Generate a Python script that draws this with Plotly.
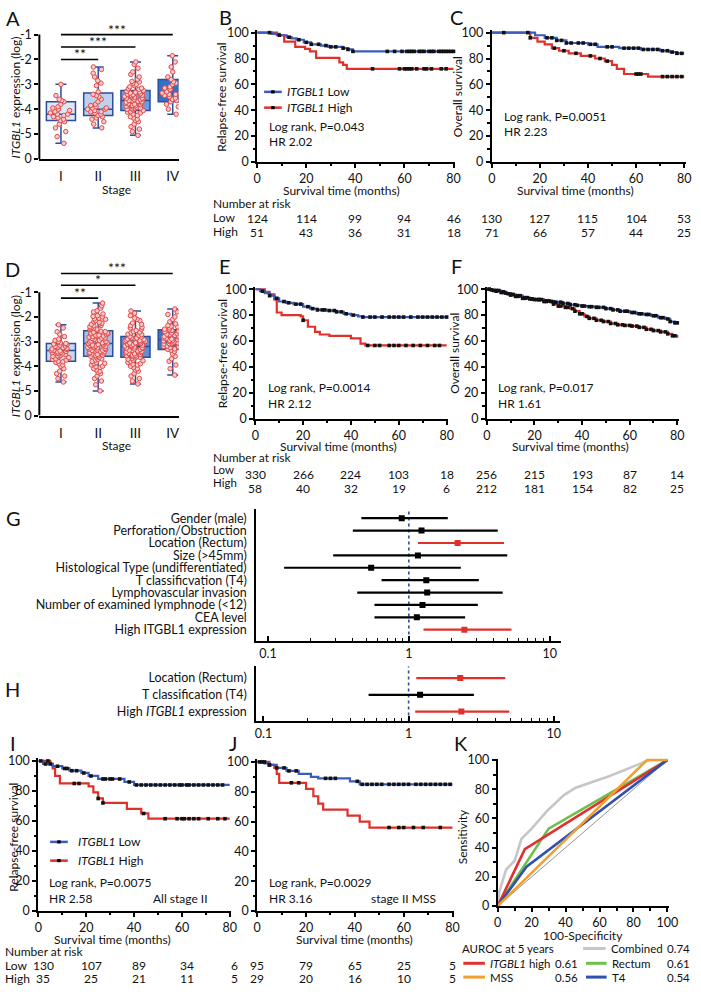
import plotly.graph_objects as go

# ======================= DATA =======================
stages = ["I", "II", "III", "IV"]
stage_pos = [1, 2, 3, 4]

# ---- Panel A : box statistics (log expression) ----
A_lower = [-5.37, -4.75, -5.05, -4.2]
A_q1 = [-4.45, -4.25, -4.05, -3.7]
A_median = [-4.2, -4.0, -3.65, -3.4]
A_q3 = [-3.7, -3.35, -3.25, -2.8]
A_upper = [-3.0, -2.3, -2.1, -1.85]
A_pts_I = [-3.0, -3.45, -3.6, -3.65, -3.7, -3.8, -3.9, -3.95, -4.0, -4.05, -4.1, -4.15, -4.2, -4.2,
           -4.25, -4.3, -4.35, -4.4, -4.45, -4.5, -4.6, -4.75, -4.9, -5.1, -5.37]
A_pts_II = [-2.3, -2.4, -2.55, -2.7, -2.85, -2.95, -3.05, -3.3, -3.4, -3.45, -3.5, -3.6, -3.7, -3.8,
            -3.85, -3.9, -3.95, -3.95, -4.0, -4.0, -4.05, -4.1, -4.1, -4.15, -4.2, -4.25, -4.3, -4.35,
            -4.4, -4.5, -4.6, -4.75]
A_pts_III = [-2.1, -2.2, -2.35, -2.5, -2.6, -2.7, -2.8, -2.88, -2.9, -2.95, -3.0, -3.05, -3.1, -3.15,
             -3.18, -3.2, -3.25, -3.28, -3.3, -3.32, -3.35, -3.38, -3.4, -3.42, -3.44, -3.45, -3.48,
             -3.5, -3.52, -3.55, -3.56, -3.58, -3.6, -3.62, -3.65, -3.66, -3.68, -3.7, -3.72, -3.75,
             -3.76, -3.78, -3.8, -3.82, -3.85, -3.86, -3.88, -3.9, -3.92, -3.95, -3.96, -3.98, -4.0,
             -4.02, -4.05, -4.1, -4.12, -4.15, -4.2, -4.25, -4.3, -4.35, -4.4, -4.45, -4.5, -4.6,
             -4.7, -4.8, -4.9, -5.05]
A_pts_IV = [-1.85, -2.1, -2.3, -2.5, -2.7, -2.8, -2.9, -2.95, -3.0, -3.1, -3.15, -3.2, -3.25, -3.3,
            -3.35, -3.35, -3.4, -3.4, -3.45, -3.5, -3.55, -3.6, -3.65, -3.7, -3.8, -3.9, -4.0, -4.2]
A_sig_from = [1, 1, 1]
A_sig_to = [2, 3, 4]
A_sig_y = [-2.0, -1.5, -1.0]
A_sig_lab = ["**", "***", "***"]

# ---- Panel D : box statistics ----
D_lower = [-4.64, -5.0, -4.72, -4.36]
D_q1 = [-3.8, -3.6, -3.64, -3.32]
D_median = [-3.36, -3.08, -3.2, -2.92]
D_q3 = [-3.08, -2.56, -2.8, -2.52]
D_upper = [-2.32, -1.44, -1.76, -1.68]
D_pts_I = [-2.32, -2.45, -2.6, -2.7, -2.8, -2.9, -2.95, -3.0, -3.05, -3.08, -3.1, -3.12, -3.15,
           -3.18, -3.2, -3.22, -3.25, -3.28, -3.3, -3.32, -3.35, -3.36, -3.38, -3.4, -3.42, -3.44,
           -3.45, -3.48, -3.5, -3.52, -3.55, -3.58, -3.6, -3.62, -3.65, -3.7, -3.72, -3.75, -3.8,
           -3.82, -3.85, -3.9, -3.95, -4.0, -4.1, -4.2, -4.3, -4.4, -4.5, -4.64]
D_pts_II = [-1.44, -1.55, -1.65, -1.75, -1.8, -1.88, -1.95, -1.98, -2.0, -2.05, -2.08, -2.1, -2.15,
            -2.2, -2.22, -2.25, -2.28, -2.3, -2.35, -2.36, -2.4, -2.42, -2.45, -2.48, -2.5, -2.52,
            -2.55, -2.58, -2.6, -2.62, -2.65, -2.66, -2.68, -2.7, -2.72, -2.74, -2.75, -2.78, -2.8,
            -2.82, -2.85, -2.86, -2.88, -2.9, -2.92, -2.95, -2.96, -2.98, -3.0, -3.02, -3.05, -3.06,
            -3.08, -3.1, -3.12, -3.14, -3.15, -3.16, -3.18, -3.2, -3.22, -3.24, -3.25, -3.26, -3.28,
            -3.3, -3.32, -3.34, -3.35, -3.36, -3.38, -3.4, -3.42, -3.45, -3.46, -3.48, -3.5, -3.52,
            -3.55, -3.56, -3.58, -3.6, -3.62, -3.65, -3.7, -3.72, -3.75, -3.8, -3.85, -3.88, -3.9,
            -3.95, -4.0, -4.02, -4.05, -4.1, -4.15, -4.2, -4.25, -4.3, -4.4, -4.5, -4.6, -4.75, -5.0]
D_pts_III = [-1.76, -1.85, -1.95, -2.05, -2.1, -2.15, -2.25, -2.3, -2.35, -2.42, -2.45, -2.5,
             -2.55, -2.6, -2.62, -2.65, -2.7, -2.72, -2.75, -2.8, -2.82, -2.85, -2.86, -2.88, -2.9,
             -2.92, -2.95, -2.96, -2.98, -3.0, -3.02, -3.05, -3.06, -3.08, -3.1, -3.12, -3.15,
             -3.16, -3.18, -3.2, -3.22, -3.25, -3.26, -3.28, -3.3, -3.32, -3.35, -3.36, -3.38, -3.4,
             -3.42, -3.45, -3.46, -3.48, -3.5, -3.52, -3.55, -3.56, -3.58, -3.6, -3.62, -3.64,
             -3.66, -3.68, -3.72, -3.76, -3.78, -3.8, -3.85, -3.9, -3.92, -3.95, -4.0, -4.05, -4.1,
             -4.15, -4.2, -4.3, -4.4, -4.5, -4.6, -4.72]
D_pts_IV = [-1.68, -1.8, -1.9, -2.0, -2.1, -2.2, -2.28, -2.35, -2.38, -2.4, -2.45, -2.5, -2.52,
            -2.55, -2.58, -2.6, -2.62, -2.65, -2.68, -2.7, -2.72, -2.75, -2.78, -2.8, -2.82, -2.85,
            -2.88, -2.9, -2.92, -2.95, -2.96, -2.98, -3.0, -3.02, -3.05, -3.06, -3.08, -3.1, -3.12,
            -3.15, -3.18, -3.2, -3.22, -3.25, -3.3, -3.32, -3.35, -3.4, -3.5, -3.6, -3.7, -3.8,
            -3.95, -4.1, -4.36]
D_sig_from = [1, 1, 1]
D_sig_to = [2, 3, 4]
D_sig_y = [-1.24, -0.72, -0.24]
D_sig_lab = ["**", "*", "***"]

# ---- Kaplan-Meier curves (months, % survival) ----
B_low_t = [0, 6, 9, 12, 14, 16, 19, 22, 26, 29, 35, 37, 39, 80]
B_low_s = [100, 99, 98, 96.5, 95.5, 94.5, 92.5, 91, 90, 89, 88, 87, 85.5, 85.5]
B_high_t = [0, 8, 11, 15.5, 19.5, 21.5, 24, 33.5, 35, 36.5, 80]
B_high_s = [100, 98, 93, 89, 87.5, 85.5, 80.5, 77, 75, 72, 72]
B_cens_low = [5, 9, 13, 17, 20, 22, 25, 28, 30, 32, 35, 37, 39, 53, 56, 59, 61, 62, 63, 64, 66, 67,
              68, 70, 71, 72, 74, 75, 76, 77, 78, 79, 80]
B_cens_high = [47, 58, 60, 61, 62, 63, 65, 68, 69, 71, 75, 77]

C_low_t = [0, 18, 22, 27, 31, 40, 44, 53, 62, 70, 74, 77, 80]
C_low_s = [100, 98, 96, 94, 92, 91, 89, 88, 87, 86, 85, 84, 84]
C_high_t = [0, 16, 19, 22, 25, 28, 32, 37, 43, 47, 50, 52, 55, 65, 80]
C_high_s = [100, 96, 93, 91, 88, 86, 84, 82, 80, 78, 75, 72, 68, 66, 66]
C_cens_low = [5, 15, 23, 25, 27, 29, 31, 33, 36, 38, 41, 43, 48, 50, 55, 57, 59, 61, 63, 65, 67, 69,
              71, 73, 75, 77, 79]
C_cens_high = [16, 26, 30, 35, 41, 45, 48, 60, 61, 62, 71, 73, 75, 77, 79]

E_low_t = [0, 2, 4, 6, 8, 10, 13, 16, 20, 23, 26, 30, 34, 37, 40, 43, 45, 80]
E_low_s = [100, 98.5, 97, 95, 93, 90.5, 89.5, 88.5, 86.5, 85, 84, 83.5, 82.5, 81, 80, 79, 78.5, 78.5]
E_high_t = [0, 4, 6, 8, 9, 11, 19, 20, 22, 25, 27, 31, 40, 44, 46, 80]
E_high_s = [100, 98, 96, 92, 82, 80, 79, 76, 71, 67, 65, 64, 62, 58, 56.5, 56.5]
E_cens_low = [3, 6, 9, 12, 14, 17, 19, 22, 24, 26, 28, 29, 31, 33, 34, 36, 38, 41, 45, 48, 50, 53,
              56, 58, 60, 62, 65, 68, 70, 72, 74, 76, 78, 80]
E_cens_high = [20, 47, 50, 52, 56, 58, 60, 63, 66, 69, 72, 75, 77]

F_low_t = [0, 2, 4, 6, 8, 10, 12, 15, 18, 20, 24, 28, 32, 35, 38, 40, 43, 46, 50, 53, 56, 60, 63,
           66, 69, 72, 75, 77, 79, 80]
F_low_s = [100, 99.5, 99, 98, 97, 96, 95, 93.5, 92.5, 92, 91, 90, 89, 88, 87.5, 87, 86.5, 86, 85,
           84, 83, 82, 81, 80.5, 79.5, 78, 77, 75, 74, 74]
F_high_t = [0, 2, 4, 6, 8, 10, 12, 15, 18, 20, 24, 28, 30, 33, 35, 37, 39, 41, 43, 46, 49, 52, 55,
            58, 61, 64, 67, 70, 73, 76, 78, 80]
F_high_s = [100, 99, 98.5, 97.5, 96.5, 95.5, 94.5, 93, 92.5, 92, 90.5, 88.5, 87, 86, 85, 83, 81,
            79, 77.5, 76, 75, 73.5, 72.5, 72, 71.5, 70.5, 69, 68, 67, 65.5, 64, 62.5]
F_cens_low = [1, 2, 4, 5, 7, 8, 10, 11, 13, 14, 16, 17, 19, 20, 22, 23, 25, 26, 28, 29, 31, 32, 34,
              35, 37, 38, 40, 41, 43, 44, 46, 47, 49, 50, 52, 53, 55, 56, 58, 59, 61, 62, 64, 65,
              67, 68, 70, 71, 73, 74, 76, 77, 79, 80]
F_cens_high = [1, 3, 4, 6, 7, 9, 10, 12, 13, 15, 16, 18, 19, 21, 22, 24, 25, 27, 28, 30, 31, 33,
               34, 36, 37, 39, 40, 42, 43, 45, 46, 48, 49, 51, 52, 54, 55, 57, 58, 60, 61, 63, 64,
               66, 67, 69, 70, 72, 73, 75, 76, 78, 79]

I_low_t = [0, 2, 6, 10, 13, 18, 21, 25, 36, 40, 80]
I_low_s = [100, 98, 96.5, 95, 93.5, 92, 90, 88, 86, 84, 84]
I_high_t = [0, 5, 6, 7, 9, 21, 23, 25, 27, 37, 43, 46, 80]
I_high_s = [100, 98, 95, 90, 85, 83, 79, 75, 72, 68, 65, 61.5, 61.5]
I_cens_low = [1, 3, 5, 8, 11, 12, 14, 16, 19, 22, 27, 28, 30, 31, 34, 38, 41, 43, 45, 47, 49, 51,
              53, 55, 57, 59, 60, 62, 63, 65, 67, 69, 71, 73, 75, 77]
I_cens_high = [4, 15, 17, 25, 27, 44, 53, 58, 60, 61, 63, 65, 67, 71, 75, 78]

J_low_t = [0, 3, 5, 8, 12, 17, 22, 25, 38, 42, 80]
J_low_s = [100, 99, 98, 96, 94, 92, 90, 89, 87, 85, 85]
J_high_t = [0, 5, 7, 8, 9, 20, 23, 25, 27, 37, 42, 46, 80]
J_high_s = [100, 98, 96, 92, 86, 82, 77, 72, 68, 64, 60, 56, 56]
J_cens_low = [1, 2, 5, 8, 11, 13, 16, 28, 30, 32, 41, 43, 45, 47, 49, 51, 54, 56, 58, 60, 62, 65, 67,
              69, 71, 73, 75, 77, 79]
J_cens_high = [3, 5, 14, 17, 54, 58, 60, 64, 68, 75]

# ---- numbers at risk ----
risk_times = [0, 20, 40, 60, 80]
B_risk_low = [124, 114, 99, 94, 46]
B_risk_high = [51, 43, 36, 31, 18]
C_risk_low = [130, 127, 115, 104, 53]
C_risk_high = [71, 66, 57, 44, 25]
E_risk_low = [330, 266, 224, 103, 18]
E_risk_high = [58, 40, 32, 19, 6]
F_risk_low = [256, 215, 193, 87, 14]
F_risk_high = [212, 181, 154, 82, 25]
I_risk_low = [130, 107, 89, 34, 6]
I_risk_high = [35, 25, 21, 11, 5]
J_risk_low = [95, 79, 65, 25, 5]
J_risk_high = [29, 20, 16, 10, 5]

# ---- Forest plots (hazard ratios) ----
G_labels = ["Gender (male)", "Perforation/Obstruction", "Location (Rectum)", "Size (>45mm)",
            "Histological Type (undifferentiated)", "T classificvation (T4)",
            "Lymphovascular invasion", "Number of examined lymphnode (<12)", "CEA level",
            "High ITGBL1 expression"]
G_hr = [0.89, 1.23, 2.22, 1.16, 0.54, 1.33, 1.35, 1.25, 1.14, 2.48]
G_lo = [0.46, 0.40, 1.16, 0.29, 0.13, 0.64, 0.43, 0.57, 0.57, 1.27]
G_hi = [1.89, 4.28, 4.74, 5.0, 2.34, 3.14, 4.64, 3.09, 2.51, 5.36]
G_sig = [False, False, True, False, False, False, False, False, False, True]
H_labels = ["Location (Rectum)", "T classification (T4)", "High <i>ITGBL1</i> expression"]
H_hr = [2.27, 1.2, 2.31]
H_lo = [1.13, 0.53, 1.11]
H_hi = [4.64, 2.82, 4.94]
H_sig = [True, False, True]
forest_ticks = [0.1, 1, 10]
forest_minor = [0.2, 0.3, 0.4, 0.5, 0.6, 0.7, 0.8, 0.9, 2, 3, 4, 5, 6, 7, 8, 9]

# ---- ROC curves (100-specificity, sensitivity) ----
roc_names = ["Combined", "Rectum", "ITGBL1 high", "T4", "MSS"]
roc_fpr = [[0, 1, 5, 10, 14, 20, 29, 39, 46, 66, 83, 89, 100],
           [0, 30, 100], [0, 16, 100], [0, 17, 100], [0, 88, 100]]
roc_tpr = [[0, 10, 25, 31, 46, 53, 65, 76, 81, 89, 97, 100, 100],
           [0, 53, 100], [0, 39, 100], [0, 27, 100], [0, 100, 100]]
roc_auc = [0.74, 0.61, 0.61, 0.54, 0.56]

# ======================= STYLE / HELPERS =======================
W, H = 701, 992
FONT = "Lato, 'Open Sans', sans-serif"
TS = 12  # body text size
BLUE = "#3b5cbf"
RED = "#e0302a"
ROC_COL = ["#c6c6c6", "#6cc04a", "#e03030", "#3050b0", "#f0a030"]
A_FILL = ["#dde8f7", "#bed2f0", "#6f9ee0", "#3171c6"]
D_FILL = ["#c6d9f2", "#a6c2ec", "#5f8fd9", "#3b74c8"]


def fx(p):
    return p / W


def fy(p):
    return 1 - p / H


fig = go.Figure()
lay = dict(width=W, height=H, margin=dict(l=0, r=0, t=0, b=0), paper_bgcolor="white",
           plot_bgcolor="white", showlegend=False, boxmode="overlay",
           font=dict(family=FONT, size=TS, color="#111"))
shapes, annos = [], []
nax = [0]


def new_axes(xpx, ypx, xr, yr, xo=None, yo=None):
    nax[0] += 1
    s = "" if nax[0] == 1 else str(nax[0])
    base = dict(showline=True, linecolor="black", linewidth=2, ticks="outside", ticklen=4,
                tickwidth=1.5, tickcolor="black", showgrid=False, zeroline=False,
                tickfont=dict(size=12.5, color="#111", family=FONT), fixedrange=True)
    xa = dict(base, domain=[fx(xpx[0]), fx(xpx[1])], range=xr, anchor="y" + s)
    ya = dict(base, domain=[fy(ypx[1]), fy(ypx[0])], range=yr, anchor="x" + s)
    if xo:
        xa.update(xo)
    if yo:
        ya.update(yo)
    lay["xaxis" + s] = xa
    lay["yaxis" + s] = ya
    return "x" + s, "y" + s


def txt(x, y, s, size=TS, xa="center", ya="middle", angle=0, xref="paper", yref="paper", xshift=0):
    annos.append(dict(x=fx(x) if xref == "paper" else x, y=fy(y) if yref == "paper" else y,
                      xref=xref, yref=yref, text=s, showarrow=False, xanchor=xa, yanchor=ya,
                      textangle=angle, xshift=xshift, borderpad=0,
                      font=dict(size=size, color="#111", family=FONT)))


def leg_line(x0, x1, y, color, marker=False, width=2.5):
    shapes.append(dict(type="line", xref="paper", yref="paper", x0=fx(x0), x1=fx(x1), y0=fy(y),
                       y1=fy(y), line=dict(color=color, width=width)))
    if marker:
        xm = (x0 + x1) / 2
        shapes.append(dict(type="rect", xref="paper", yref="paper", x0=fx(xm - 1.8),
                           x1=fx(xm + 1.8), y0=fy(y + 1.6), y1=fy(y - 1.6), fillcolor="black",
                           line=dict(width=0)))


# ======================= BOX PANELS =======================
def box_panel(xpx, ybot, ytop_val, ppu, lower, q1, med, q3, upper, pts, fills, sf, st, sy, sl):
    top = ybot - (ytop_val + 6) * ppu
    xa, ya = new_axes(xpx, (top, ybot), [0.42, 4.16], [-6, ytop_val],
                      xo=dict(tickvals=stage_pos, ticktext=stages, ticks="", ticklabelstandoff=4,
                              tickfont=dict(size=13.5, family=FONT, color="#111")),
                      yo=dict(showline=False, tickvals=[-6, -5, -4, -3, -2, -1],
                              ticktext=["0", "-5", "-4", "-3", "-2", "-1"]))
    shapes.append(dict(type="line", xref=xa + " domain", yref=ya, x0=0, x1=0, y0=-6, y1=-1,
                       line=dict(color="black", width=2)))
    for i in range(4):
        fig.add_trace(go.Box(x=[stage_pos[i]], q1=[q1[i]], median=[med[i]], q3=[q3[i]],
                             lowerfence=[lower[i]], upperfence=[upper[i]], orientation="v",
                             width=0.78, whiskerwidth=0.38, fillcolor=fills[i],
                             line=dict(color="#2b4e9e", width=1.5), boxpoints=False,
                             xaxis=xa, yaxis=ya, hoverinfo="skip"))
    for i in range(4):
        fig.add_trace(go.Box(x=[stage_pos[i]] * len(pts[i]), y=pts[i], orientation="v",
                             boxpoints="all", jitter=0.75, pointpos=0, width=0.78,
                             fillcolor="rgba(0,0,0,0)", line=dict(color="rgba(0,0,0,0)", width=0),
                             marker=dict(size=4.5, color="#f9cccc",
                                         line=dict(color="#e04a4a", width=1)),
                             xaxis=xa, yaxis=ya, hoverinfo="skip"))
    for a, b, yv, lab in zip(sf, st, sy, sl):
        shapes.append(dict(type="line", xref=xa, yref=ya, x0=a, x1=b, y0=yv, y1=yv,
                           line=dict(color="black", width=1.6)))
        annos.append(dict(x=(a + b) / 2, y=yv, xref=xa, yref=ya, text=lab, showarrow=False,
                          yanchor="bottom", yshift=-5,
                          font=dict(size=14, color="#111", family=FONT)))
    return xa, ya


box_panel((36, 178), 155, -0.7, 25.2, A_lower, A_q1, A_median, A_q3, A_upper,
          [A_pts_I, A_pts_II, A_pts_III, A_pts_IV], A_FILL, A_sig_from, A_sig_to, A_sig_y,
          A_sig_lab)
txt(12, 93, "<i>ITGBL1</i> expression (log)", angle=-90)
txt(115, 186, "Stage")

box_panel((36, 178), 415, 0.2, 25.0, D_lower, D_q1, D_median, D_q3, D_upper,
          [D_pts_I, D_pts_II, D_pts_III, D_pts_IV], D_FILL, D_sig_from, D_sig_to, D_sig_y,
          D_sig_lab)
txt(12, 355, "<i>ITGBL1</i> expression (log)", angle=-90)
txt(115, 445, "Stage")


# ======================= KM PANELS =======================
def step_at(ts, ss, t):
    v = ss[0]
    for tt, s in zip(ts, ss):
        if tt <= t:
            v = s
    return v


def km_panel(xp0, xp80, yp100, yp0, low, high, cl, ch):
    ppm = (xp80 - xp0) / 80
    ppu = (yp0 - yp100) / 100
    minor = dict(tickmode="array", ticks="outside", ticklen=2.5, tickwidth=1.5, tickcolor="black")
    xa, ya = new_axes((xp0, xp80 + 0.6 * ppm), (yp100 - 2 * ppu, yp0), [0, 80.6], [0, 102],
                      xo=dict(tickvals=risk_times, minor=dict(minor, tickvals=[10, 30, 50, 70])),
                      yo=dict(tickvals=[0, 20, 40, 60, 80, 100],
                              minor=dict(minor, tickvals=[10, 30, 50, 70, 90])))
    for (t, s), col in ((high, RED), (low, BLUE)):
        fig.add_trace(go.Scatter(x=t, y=s, mode="lines", line=dict(shape="hv", color=col, width=2.2),
                                 xaxis=xa, yaxis=ya, hoverinfo="skip"))
    for (t, s), cs in ((high, ch), (low, cl)):
        fig.add_trace(go.Scatter(x=cs, y=[step_at(t, s, c) for c in cs], mode="markers",
                                 marker=dict(symbol="square", size=3.6, color="#111"),
                                 cliponaxis=False, xaxis=xa, yaxis=ya, hoverinfo="skip"))
    return xa, ya


def risk_rows(xa, lows, highs, y_low, y_high, xshift=0):
    for t, a, b in zip(risk_times, lows, highs):
        txt(t, y_low, str(a), xref=xa, xshift=xshift)
        txt(t, y_high, str(b), xref=xa, xshift=xshift)


# B
xb, yb = km_panel(258, 458, 27, 158, (B_low_t, B_low_s), (B_high_t, B_high_s), B_cens_low, B_cens_high)
txt(222, 92, "Relapse-free survival", angle=-90)
txt(344, 187, "Survival time (months)")
leg_line(265, 283, 87, BLUE, marker=True)
leg_line(265, 283, 103, RED, marker=True)
txt(287, 87, "<i>ITGBL1</i> Low", xa="left")
txt(287, 103, "<i>ITGBL1</i> High", xa="left")
txt(269, 122, "Log rank, P=0.043", xa="left")
txt(269, 137, "HR 2.02", xa="left")
txt(212, 200, "Number at risk", xa="left")
txt(212, 214, "Low", xa="left")
txt(212, 229, "High", xa="left")
risk_rows(xb, B_risk_low, B_risk_high, 215, 230)

# C
xc, yc = km_panel(497, 693, 27, 158, (C_low_t, C_low_s), (C_high_t, C_high_s), C_cens_low, C_cens_high)
txt(462, 92, "Overall survival", angle=-90)
txt(582, 187, "Survival time (months)")
txt(508, 112, "Log rank, P=0.0051", xa="left")
txt(508, 127, "HR 2.23", xa="left")
risk_rows(xc, C_risk_low, C_risk_high, 215, 230)

# E
xe, ye = km_panel(256, 451, 287, 418, (E_low_t, E_low_s), (E_high_t, E_high_s), E_cens_low, E_cens_high)
txt(223, 352, "Relapse-free survival", angle=-90)
txt(341, 446, "Survival time (months)")
txt(268, 387, "Log rank, P=0.0014", xa="left")
txt(268, 403, "HR 2.12", xa="left")
txt(212, 458, "Number at risk", xa="left")
txt(212, 470, "Low", xa="left", size=11.5)
txt(212, 483, "High", xa="left", size=11.5)
risk_rows(xe, E_risk_low, E_risk_high, 475, 489)

# F
xf, yf = km_panel(492, 686, 287, 418, (F_low_t, F_low_s), (F_high_t, F_high_s), F_cens_low, F_cens_high)
txt(459, 352, "Overall survival", angle=-90)
txt(577, 446, "Survival time (months)")
txt(502, 387, "Log rank, P=0.017", xa="left")
txt(502, 403, "HR 1.61", xa="left")
risk_rows(xf, F_risk_low, F_risk_high, 475, 489)

# I
xi, yi = km_panel(35, 230, 765, 917, (I_low_t, I_low_s), (I_high_t, I_high_s), I_cens_low, I_cens_high)
txt(10, 842, "Relapse-free survival", angle=-90)
txt(111, 946, "Survival time (months)")
leg_line(47, 65, 847, BLUE, marker=True)
leg_line(47, 65, 866, RED, marker=True)
txt(74, 847, "<i>ITGBL1</i> Low", xa="left")
txt(74, 866, "<i>ITGBL1</i> High", xa="left")
txt(45, 888, "Log rank, P=0.0075", xa="left")
txt(45, 904, "HR 2.58", xa="left")
txt(209, 904, "All stage II", xa="right")
txt(0, 958, "Number at risk", xa="left")
txt(0, 972, "Low", xa="left")
txt(0, 985, "High", xa="left")
risk_rows(xi, I_risk_low, I_risk_high, 972, 985, xshift=5)

# J
xj, yj = km_panel(258, 457, 766, 917, (J_low_t, J_low_s), (J_high_t, J_high_s), J_cens_low, J_cens_high)
txt(357, 946, "Survival time (months)")
txt(269, 888, "Log rank, P=0.0029", xa="left")
txt(269, 904, "HR 3.16", xa="left")
txt(441, 904, "stage II MSS", xa="right")
risk_rows(xj, J_risk_low, J_risk_high, 972, 985)


# ======================= FOREST PANELS =======================
def forest_panel(xpx, ypx, xr, pos, yr, labels, hr, lo, hi, sig):
    xa, ya = new_axes(xpx, ypx, xr, yr,
                      xo=dict(type="log", tickvals=forest_ticks, ticktext=["0.1", "1", "10"],
                              ticks="inside", ticklen=5,
                              minor=dict(tickmode="array", tickvals=forest_minor, ticks="inside",
                                         ticklen=3, tickwidth=1, tickcolor="black")),
                      yo=dict(tickvals=pos, ticktext=labels, ticks="", ticklabelstandoff=5,
                              tickfont=dict(size=12.5, family=FONT, color="#111")))
    fig.add_trace(go.Scatter(x=[1, 1], y=yr, mode="lines",
                             line=dict(color="#2f4d9a", width=1.6, dash="dot"),
                             xaxis=xa, yaxis=ya, hoverinfo="skip"))
    for flag, col in ((False, "black"), (True, RED)):
        xs, ys, px_, py_ = [], [], [], []
        for p, h, l, u, s in zip(pos, hr, lo, hi, sig):
            if s == flag:
                xs += [l, u, None]
                ys += [p, p, None]
                px_.append(h)
                py_.append(p)
        fig.add_trace(go.Scatter(x=xs, y=ys, mode="lines", line=dict(color=col, width=2.2),
                                 xaxis=xa, yaxis=ya, hoverinfo="skip"))
        fig.add_trace(go.Scatter(x=px_, y=py_, mode="markers",
                                 marker=dict(symbol="square", size=6, color=col),
                                 xaxis=xa, yaxis=ya, hoverinfo="skip"))


G_pos = list(range(len(G_labels) - 1, -1, -1))
forest_panel((257, 568), (510, 643), [-1.084, 1.084], G_pos, [-0.876, 9.717], G_labels, G_hr,
             G_lo, G_hi, G_sig)
H_pos = list(range(len(H_labels) - 1, -1, -1))
forest_panel((257, 566), (669, 725), [-1.05, 1.04], H_pos, [-0.59, 2.71], H_labels, H_hr, H_lo,
             H_hi, H_sig)

# ======================= ROC PANEL =======================
minor_k = dict(tickmode="array", ticks="outside", ticklen=2.5, tickwidth=1.5, tickcolor="black")
xk, yk = new_axes((503, 677.7), (762.5, 912), [0, 101], [0, 101],
                  xo=dict(tickvals=[0, 20, 40, 60, 80, 100],
                          minor=dict(minor_k, tickvals=[10, 30, 50, 70, 90])),
                  yo=dict(tickvals=[0, 20, 40, 60, 80, 100],
                          minor=dict(minor_k, tickvals=[10, 30, 50, 70, 90])))
fig.add_trace(go.Scatter(x=[0, 100], y=[0, 100], mode="lines", line=dict(color="#777", width=0.8),
                         xaxis=xk, yaxis=yk, hoverinfo="skip"))
for f, t, c in zip(roc_fpr, roc_tpr, ROC_COL):
    fig.add_trace(go.Scatter(x=f, y=t, mode="lines", line=dict(color=c, width=2.6),
                             xaxis=xk, yaxis=yk, hoverinfo="skip"))
txt(468, 842, "Sensitivity", angle=-90)
txt(590, 942, "100-Specificity")
txt(466, 955, "AUROC at 5 years", xa="left", size=11.5)
# legend: (line x0, x1, y, text-left, value-right)
leg_pos = {"Combined": (590, 613, 955, 617, 700), "ITGBL1 high": (468, 490, 970, 494, 586),
           "Rectum": (593, 614, 970, 618, 700), "MSS": (468, 490, 984, 494, 586),
           "T4": (593, 614, 984, 618, 700)}
for name, col, auc in zip(roc_names, ROC_COL, roc_auc):
    x0, x1, yy, tl, vr = leg_pos[name]
    leg_line(x0, x1, yy, col, width=3)
    label = "<i>ITGBL1</i> high" if name == "ITGBL1 high" else name
    txt(tl, yy, label, xa="left", size=11.5)
    txt(vr, yy, f"{auc:.2f}", xa="right", size=11.5)

# ======================= PANEL LETTERS =======================
for L, x, y in [("A", 9, 12), ("B", 226, 11), ("C", 461, 11), ("D", 9, 266), ("E", 225, 263),
                ("F", 461, 263), ("G", 10, 519), ("H", 9, 692), ("I", 9, 747), ("J", 233, 747),
                ("K", 466, 747)]:
    txt(x, y, L, size=20)

lay["shapes"] = shapes
lay["annotations"] = annos
fig.update_layout(**lay)
fig.write_html("out.html", config={"displayModeBar": False},
               post_script="document.body.style.margin='0px';document.body.style.overflow='hidden';")
